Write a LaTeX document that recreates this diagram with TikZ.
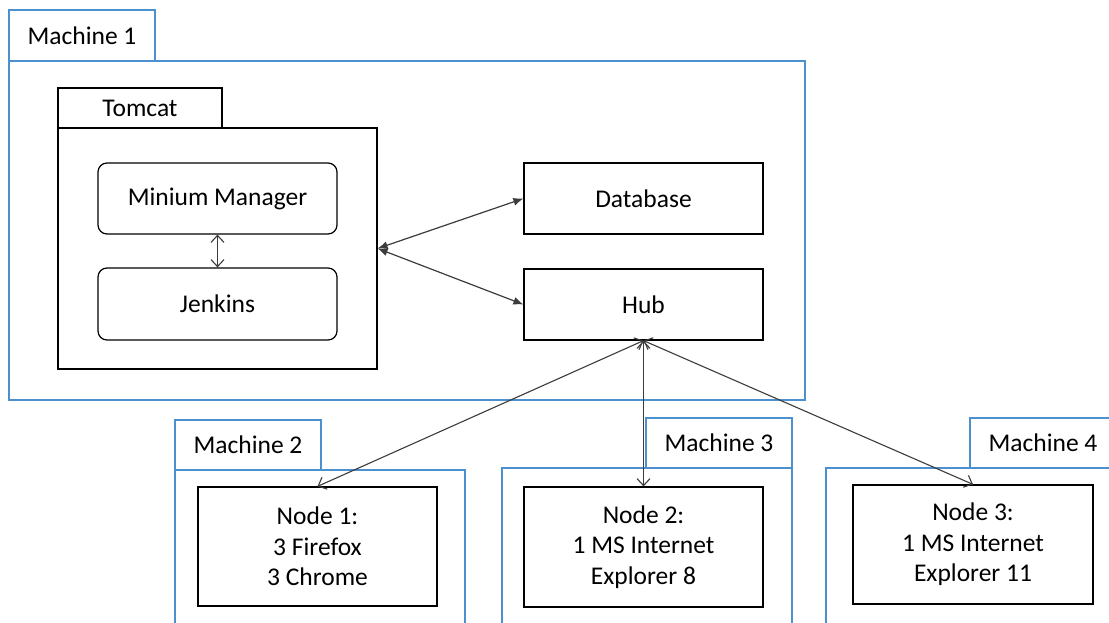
\documentclass[tikz,border=0pt]{standalone}
\usepackage{fontspec}
\setmainfont{Carlito}
\usetikzlibrary{arrows.meta}
\definecolor{mblue}{RGB}{76,144,208}
\definecolor{agray}{RGB}{60,60,60}
\tikzset{
  mbox/.style={draw=mblue, line width=1.3pt, rectangle, inner sep=0pt, fill=white},
  bbox/.style={draw=black, line width=1.2pt, rectangle, inner sep=0pt, fill=white, align=center, font=\fontsize{25.5}{30.5}\selectfont},
  rbox/.style={bbox, rounded corners=9pt},
  lbl/.style={font=\fontsize{25.5}{30.5}\selectfont},
  fconn/.style={draw=agray, line width=1.2pt, {Latex[length=10pt,width=8pt]}-{Latex[length=10pt,width=8pt]}},
  oconn/.style={draw=agray, line width=1.1pt, {Straight Barb[length=7pt,width=13pt]}-{Straight Barb[length=7pt,width=13pt]}},
}
\begin{document}
\begin{tikzpicture}[x=1pt,y=-1pt]
\useasboundingbox (0,0) rectangle (1109,623);
\clip (0,0) rectangle (1109,623);
% Machine 1
\node[mbox, minimum width=146pt, minimum height=51pt, lbl] (m1tab) at (82,35.5) {Machine 1};
\node[mbox, minimum width=796pt, minimum height=339pt] (m1) at (407,230.5) {};
% Tomcat
\node[bbox, minimum width=164pt, minimum height=40pt] (tctab) at (140,108) {Tomcat};
\node[bbox, minimum width=319pt, minimum height=241pt] (tc) at (217.5,248.5) {};
\node[rbox, minimum width=239pt, minimum height=71pt] (mm) at (217.5,198.5) {Minium Manager};
\node[rbox, minimum width=239pt, minimum height=72pt] (jk) at (217.5,304) {Jenkins};
\node[bbox, minimum width=239pt, minimum height=71pt] (db) at (643.5,198.5) {Database};
\node[bbox, minimum width=239pt, minimum height=71pt] (hub) at (643.5,304.5) {Hub};
% Machine 2
\node[mbox, minimum width=146pt, minimum height=50pt, lbl] (m2tab) at (248,445) {Machine 2};
\node[mbox, minimum width=290pt, minimum height=180pt] (m2) at (320,560) {};
\node[bbox, minimum width=239pt, minimum height=119pt] (n1) at (317.5,546.5) {Node 1:\\3 Firefox\\3 Chrome};
% Machine 3
\node[mbox, minimum width=146pt, minimum height=50pt, lbl] (m3tab) at (719,443) {Machine 3};
\node[mbox, minimum width=290pt, minimum height=182pt] (m3) at (647,559) {};
\node[bbox, minimum width=239pt, minimum height=120pt] (n2) at (643.5,547) {Node 2:\\1 MS Internet\\Explorer 8};
% Machine 4
\node[mbox, minimum width=146pt, minimum height=50pt, lbl] (m4tab) at (1043,443) {Machine 4};
\node[mbox, minimum width=290pt, minimum height=182pt] (m4) at (971,559) {};
\node[bbox, minimum width=240pt, minimum height=119pt] (n3) at (973,544.5) {Node 3:\\1 MS Internet\\Explorer 11};
% connectors
\draw[oconn] (mm.south) -- (jk.north);
\draw[fconn] (tc.east) -- (db.west);
\draw[fconn] (tc.east) -- (hub.west);
\draw[oconn] (hub.south) -- (n1.north);
\draw[oconn] (hub.south) -- (n2.north);
\draw[oconn] (hub.south) -- (n3.north);
\end{tikzpicture}
\end{document}
